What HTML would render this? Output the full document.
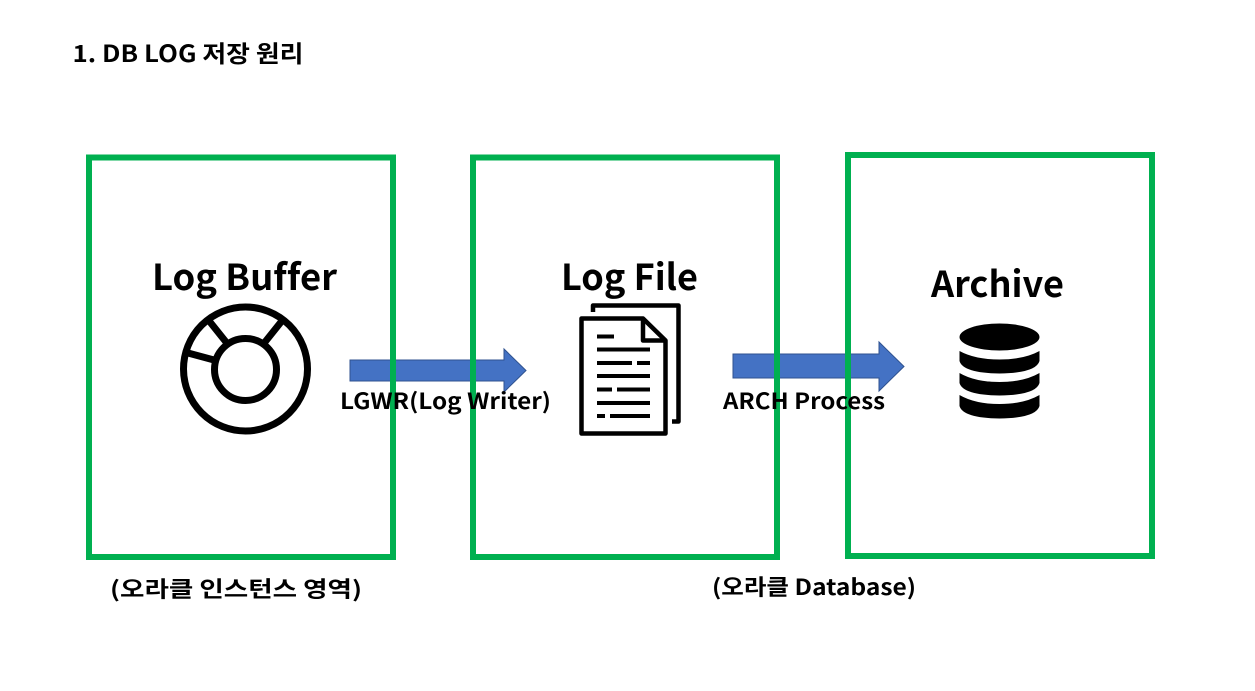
<!DOCTYPE html>
<html><head><meta charset="utf-8"><style>
html,body{margin:0;padding:0;background:#fff;width:1255px;height:691px;overflow:hidden}
svg{display:block}
text{font-family:"Noto Sans CJK KR","Liberation Sans",sans-serif;font-weight:700;fill:#000;font-variant-ligatures:none}
</style></head><body>
<svg width="1255" height="691" viewBox="0 0 1255 691" xmlns="http://www.w3.org/2000/svg">
<rect width="1255" height="691" fill="#fff"/>
<text x="72.5" y="62" font-size="23.500" textLength="231" lengthAdjust="spacingAndGlyphs">1. DB LOG 저장 원리</text>

<polygon points="350,360 504,360 504,349 526,370.5 504,392 504,381 350,381" fill="#4472C4" stroke="#2F528F" stroke-width="1"/>
<polygon points="733,354 879,354 879,342 904,366.5 879,391 879,378 733,378" fill="#4472C4" stroke="#2F528F" stroke-width="1"/>

<g fill="none" stroke="#00B050" stroke-width="6">
<rect x="89" y="157.5" width="304" height="399.5"/>
<rect x="473" y="157.5" width="304" height="399.5"/>
<rect x="848" y="155" width="304" height="401"/>
</g>

<text x="152" y="290" font-size="36" textLength="185" lengthAdjust="spacingAndGlyphs">Log Buffer</text>
<text x="561" y="290" font-size="36" textLength="137" lengthAdjust="spacingAndGlyphs">Log File</text>
<text x="931" y="297" font-size="36" textLength="133" lengthAdjust="spacingAndGlyphs">Archive</text>

<g fill="none" stroke="#000" stroke-width="7">
<circle cx="245.5" cy="369" r="62"/>
<circle cx="245.5" cy="369.5" r="31"/>
<path d="M210,322 L226,342 M281,322 L265,342 M188,353 L214,360"/>
</g>

<g fill="none" stroke="#000" stroke-width="4.5" stroke-linejoin="round">
<path d="M581.500,318.5 H643 L665.5,340.5 V433.5 H581.500 Z"/>
<path d="M643,318.5 V340.5 H665.5"/>
<path d="M593,312 V305.5 H678.5 V421.5 H672"/>
<path stroke-width="4" d="M597,336.5H614 M597,349.5H650 M597,363H632 M637,363H650 M597,376H650 M597,389.5H612 M617,389.5H650 M597,403H650 M597,416H605 M610,416H650"/>
</g>

<g fill="#000">
<ellipse cx="999.5" cy="337" rx="40" ry="13.5"/>
<path d="M959.5,351 Q975,359.500 999.500,359.500 Q1024,359.500 1039.500,351 V361 Q1036,373 999.500,373.500 Q963,373 959.500,361 Z"/>
<path d="M959.5,373 Q975,382 999.500,382 Q1024,382 1039.500,373 V383 Q1036,395 999.500,395.500 Q963,395 959.500,383 Z"/>
<path d="M959.5,395 Q975,404 999.500,404 Q1024,404 1039.500,395 V406 Q1036,418 999.500,418.500 Q963,418 959.500,406 Z"/>
</g>

<text x="340" y="409" font-size="22" textLength="211" lengthAdjust="spacingAndGlyphs">LGWR(Log Writer)</text>
<text x="723" y="409" font-size="22" textLength="162" lengthAdjust="spacingAndGlyphs">ARCH Process</text>
<text x="110" y="597" font-size="22" textLength="252" lengthAdjust="spacingAndGlyphs">(오라클 인스턴스 영역)</text>
<text x="712" y="595" font-size="22" textLength="204" lengthAdjust="spacingAndGlyphs">(오라클 Database)</text>
</svg>
</body></html>
